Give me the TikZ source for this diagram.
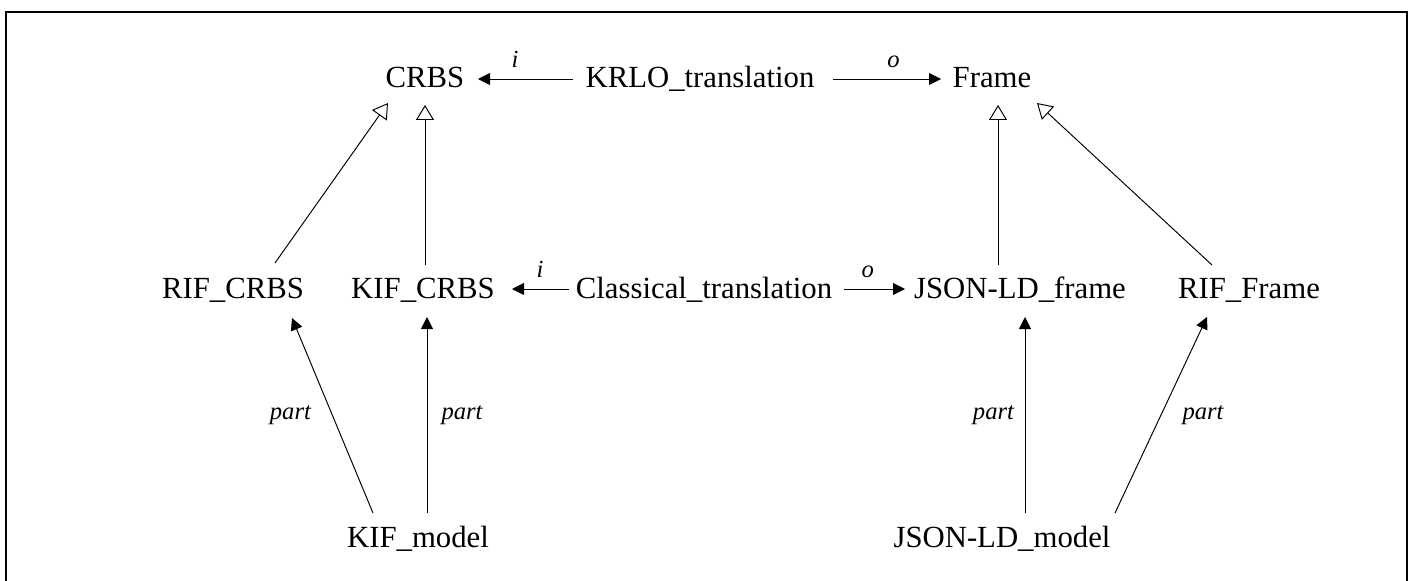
\documentclass[tikz,border=0pt]{standalone}
\usepackage{fontspec}
\setmainfont{Liberation Serif}
\usetikzlibrary{arrows.meta,calc}
\tikzset{
  term/.style={anchor=base, inner sep=0pt, font=\fontsize{17.5}{21}\selectfont},
  lbl/.style={inner sep=0pt, font=\fontsize{14}{17}\selectfont\itshape},
  isa/.style={-{Triangle[open,length=0.3cm,width=0.36cm]}, line width=0.55pt},
  rel/.style={-{Triangle[length=0.24cm,width=0.24cm]}, line width=0.55pt}
}
\begin{document}
\begin{tikzpicture}[x=0.02cm,y=-0.02cm]
    \useasboundingbox (0,0) rectangle (1413,581);
    \draw[line width=1.3pt] (6,581) -- (6,12) -- (1407,12) -- (1407,581);

    \node[term] (crbs) at (425,88) {CRBS};
    \node[term] (krlo) at (700,88) {KRLO\_translation};
    \node[term] (frame) at (992,88) {Frame};

    \node[term] (rifcrbs) at (233,298) {RIF\_CRBS};
    \node[term] (kifcrbs) at (423,298) {KIF\_CRBS};
    \node[term] (classical) at (704,298) {Classical\_translation};
    \node[term] (jsonframe) at (1020,298) {JSON-LD\_frame};
    \node[term] (rifframe) at (1249,298) {RIF\_Frame};

    \node[term] (kifmodel) at (418,547) {KIF\_model};
    \node[term] (jsonmodel) at (1002,547) {JSON-LD\_model};

    \draw[rel] ($(krlo.base)+(-127,-9)$) -- node[lbl,pos=.61,above=6pt] {i} ($(crbs.base)+(53,-9)$);
    \draw[rel] ($(krlo.base)+(133,-9)$) -- node[lbl,pos=.56,above=6pt] {o} ($(frame.base)+(-51,-9)$);
    \draw[rel] ($(classical.base)+(-135,-9)$) -- node[lbl,pos=.51,above=6pt] {i} ($(kifcrbs.base)+(89,-9)$);
    \draw[rel] ($(classical.base)+(140,-9)$) -- node[lbl,pos=.39,above=6pt] {o} ($(jsonframe.base)+(-115,-9)$);

    \draw[isa] ($(rifcrbs.base)+(42,-35)$) -- ($(crbs.base)+(-37,15)$);
    \draw[isa] ($(kifcrbs.base)+(2,-33)$) -- ($(crbs.base)+(0,17)$);
    \draw[isa] ($(jsonframe.base)+(-22,-33)$) -- ($(frame.base)+(6,17)$);
    \draw[isa] ($(rifframe.base)+(-37,-33)$) -- ($(frame.base)+(45,15)$);

    \draw[rel] ($(kifmodel.base)+(-45,-34)$) -- node[lbl,left=12pt] {part} ($(rifcrbs.base)+(59,20)$);
    \draw[rel] ($(kifmodel.base)+(9,-34)$) -- node[lbl,right=8pt] {part} ($(kifcrbs.base)+(4,19)$);
    \draw[rel] ($(jsonmodel.base)+(23,-34)$) -- node[lbl,left=6pt] {part} ($(jsonframe.base)+(5,19)$);
    \draw[rel] ($(jsonmodel.base)+(113,-34)$) -- node[lbl,right=12pt] {part} ($(rifframe.base)+(-42,19)$);
\end{tikzpicture}
\end{document}
